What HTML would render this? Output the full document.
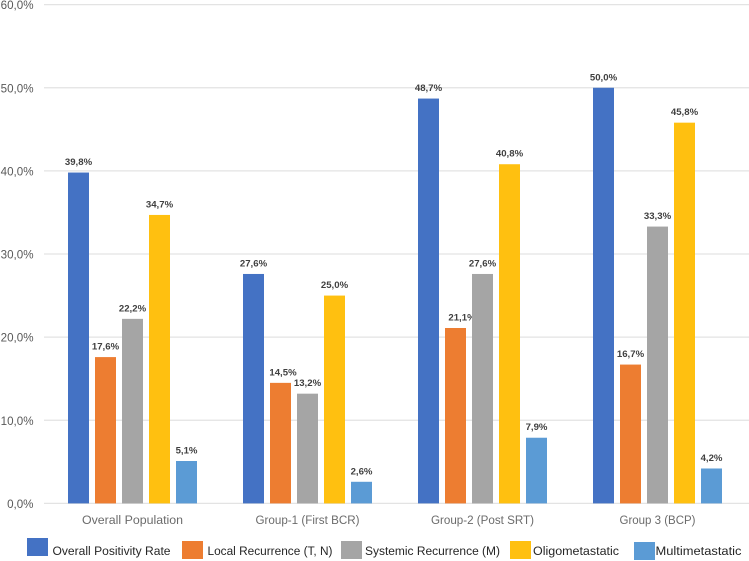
<!DOCTYPE html>
<html>
<head>
<meta charset="utf-8">
<style>
html,body{margin:0;padding:0;background:#fff;width:749px;height:561px;overflow:hidden}
svg{display:block;font-family:"Liberation Sans",sans-serif;filter:blur(0.35px)}
</style>
</head>
<body>
<svg id="chart" width="749" height="561" viewBox="0 0 749 561" xmlns="http://www.w3.org/2000/svg"></svg>
<script>
const categories = ["Overall Population", "Group-1 (First BCR)", "Group-2 (Post SRT)", "Group 3 (BCP)"];
const seriesNames = ["Overall Positivity Rate", "Local Recurrence (T, N)", "Systemic Recurrence (M)", "Oligometastatic", "Multimetastatic"];
const overallPositivity = [39.8, 27.6, 48.7, 50.0];
const localRecurrence = [17.6, 14.5, 21.1, 16.7];
const systemicRecurrence = [22.2, 13.2, 27.6, 33.3];
const oligometastatic = [34.7, 25.0, 40.8, 45.8];
const multimetastatic = [5.1, 2.6, 7.9, 4.2];
const yTicks = [0, 10, 20, 30, 40, 50, 60];

const seriesValues = [overallPositivity, localRecurrence, systemicRecurrence, oligometastatic, multimetastatic];
const colors = ["#4472c4", "#ed7d31", "#a5a5a5", "#ffc010", "#5b9bd5"];
const NS = "http://www.w3.org/2000/svg";
const svg = document.getElementById("chart");

const fmt = v => v.toFixed(1).replace(".", ",") + "%";
const yScale = v => 503.4 - v * 8.313;
const xScale = (c, s) => 68 + c * 175 + s * 27;
const barWidth = 21;
/* labels the source chart shifted sideways to avoid neighbouring labels, keyed series-group */
const labelShift = {"1-1": 2.5, "1-2": 6.5};

function make(tag, attrs, text) {
  const el = document.createElementNS(NS, tag);
  for (const k in attrs) el.setAttribute(k, attrs[k]);
  if (text !== undefined) el.textContent = text;
  svg.appendChild(el);
  return el;
}

yTicks.forEach(t => {
  const grid = make("line", {x1: 44, x2: 749, y1: yScale(t), y2: yScale(t), stroke: "#e3e3e3", "stroke-width": 1.2});
  
  
  const label = make("text", {x: 33.5, y: yScale(t) + 4.5, "text-anchor": "end", "font-size": 11.6, fill: "#595959"}, fmt(t));
  
  
});

seriesValues.forEach((vals, s) => {
  vals.forEach((v, c) => {
    const bar = make("rect", {x: xScale(c, s), y: yScale(v), width: barWidth, height: yScale(0) - yScale(v), fill: colors[s]});
    
    
    const shift = labelShift[s + "-" + c] || 0;
    const lab = make("text", {x: xScale(c, s) + barWidth / 2 + shift, y: yScale(v) - 7.5, "text-anchor": "middle", "font-size": 9.6, "font-weight": "bold", fill: "#404040"}, fmt(v));
    
    
  });
});

const categoryTextWidth = [101, 104, 103, 76];
categories.forEach((name, c) => {
  const cat = make("text", {x: xScale(c, 2) + barWidth / 2, y: 524, "text-anchor": "middle", "font-size": 12.2, fill: "#6b6b6b", textLength: categoryTextWidth[c], lengthAdjust: "spacingAndGlyphs"}, name);
  
  
});

const legendBoxX = [27, 182, 341, 510, 634];
const legendBoxY = [538, 541, 541, 541, 542];
const legendTextX = [52.5, 207.5, 365, 533, 655.5];
const legendTextWidth = [118, 125, 135, 86, 86];
seriesNames.forEach((name, s) => {
  const box = make("rect", {x: legendBoxX[s], y: legendBoxY[s], width: 21, height: 18, fill: colors[s]});
  
  
  const text = make("text", {x: legendTextX[s], y: 555, "font-size": 12.2, fill: "#262626", textLength: legendTextWidth[s], lengthAdjust: "spacingAndGlyphs"}, name);
  
  
});
</script>
</body>
</html>
